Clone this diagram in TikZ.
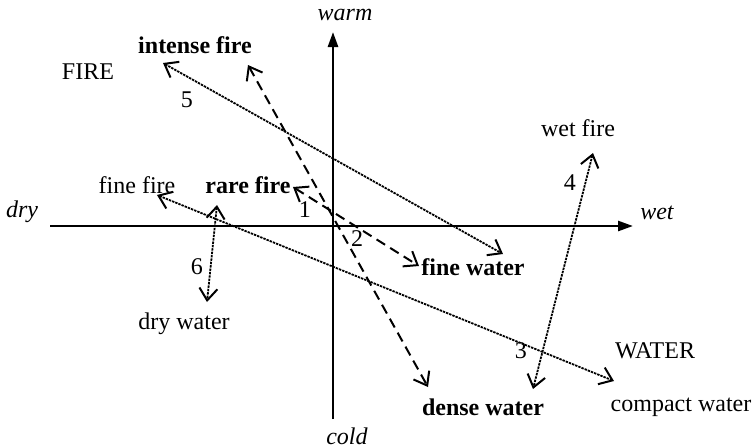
\documentclass[tikz,border=0pt]{standalone}
\usepackage{fontspec}
\setmainfont{Liberation Serif}
\usetikzlibrary{arrows.meta}

\begin{document}
\begin{tikzpicture}[
  x=0.5pt, y=-0.5pt,
  font=\fontsize{12}{14}\selectfont,
  lbl/.style={inner sep=0pt},
  axis/.style={line width=1.3pt, -{Triangle[length=7.5pt,width=5pt]}},
  arr/.style={line width=0.9pt, {Straight Barb[length=6pt,width=9pt,line width=1pt]}-{Straight Barb[length=6pt,width=9pt,line width=1pt]}},
  dotarr/.style={arr, dash pattern=on 1.2pt off 0.5pt},
  dasharr/.style={arr, line width=1pt, dash pattern=on 5pt off 3pt}
]
\useasboundingbox (0,0) rectangle (752,447);

% axes
\coordinate (xl) at (50,226);
\coordinate (xr) at (633,226);
\coordinate (yb) at (333,419);
\coordinate (yt) at (333,32);
\draw[axis] (xl) -- (xr);
\draw[axis] (yb) -- (yt);
\node[lbl, font=\fontsize{12}{14}\selectfont\itshape] (warm) at (345,15) {warm};
\node[lbl, font=\fontsize{12}{14}\selectfont\itshape] (cold) at (347,436) {cold};
\node[lbl, font=\fontsize{12}{14}\selectfont\itshape] (dry) at (22,212) {dry};
\node[lbl, font=\fontsize{12}{14}\selectfont\itshape] (wet) at (657,213) {wet};

% labels
\node[lbl] (fire) at (88,72) {FIRE};
\node[lbl] (water) at (655,351) {WATER};
\node[lbl, font=\fontsize{12}{14}\selectfont\bfseries] (intense) at (195,45) {intense fire};
\node[lbl, font=\fontsize{12}{14}\selectfont\bfseries] (rare) at (248,185) {rare fire};
\node[lbl, font=\fontsize{12}{14}\selectfont\bfseries] (finew) at (473,267) {fine water};
\node[lbl, font=\fontsize{12}{14}\selectfont\bfseries] (dense) at (483,407) {dense water};
\node[lbl] (finef) at (137,185) {fine fire};
\node[lbl] (wetf) at (578,128) {wet fire};
\node[lbl] (dryw) at (184,324) {dry water};
\node[lbl] (compact) at (681,407) {compact water};

% arrow ends
\coordinate (a1) at (293,187);
\coordinate (b1) at (419,266);
\coordinate (a2) at (248,65);
\coordinate (b2) at (428,387);
\coordinate (a3) at (157,195);
\coordinate (b3) at (614,381);
\coordinate (a4) at (593,153);
\coordinate (b4) at (533,389);
\coordinate (a5) at (163,63);
\coordinate (b5) at (503,254);
\coordinate (a6) at (217,205);
\coordinate (b6) at (207,302);

\draw[dasharr] (a1) -- (b1);
\draw[dasharr] (a2) -- (b2);
\draw[dotarr] (a3) -- (b3);
\draw[dotarr] (a4) -- (b4);
\draw[dotarr] (a5) -- (b5);
\draw[dotarr] (a6) -- (b6);

% numbers
\node[lbl] (n1) at (305,210) {1};
\node[lbl] (n2) at (357,239) {2};
\node[lbl] (n3) at (521,351) {3};
\node[lbl] (n4) at (570,183) {4};
\node[lbl] (n5) at (187,100) {5};
\node[lbl] (n6) at (197,267) {6};
\end{tikzpicture}
\end{document}
